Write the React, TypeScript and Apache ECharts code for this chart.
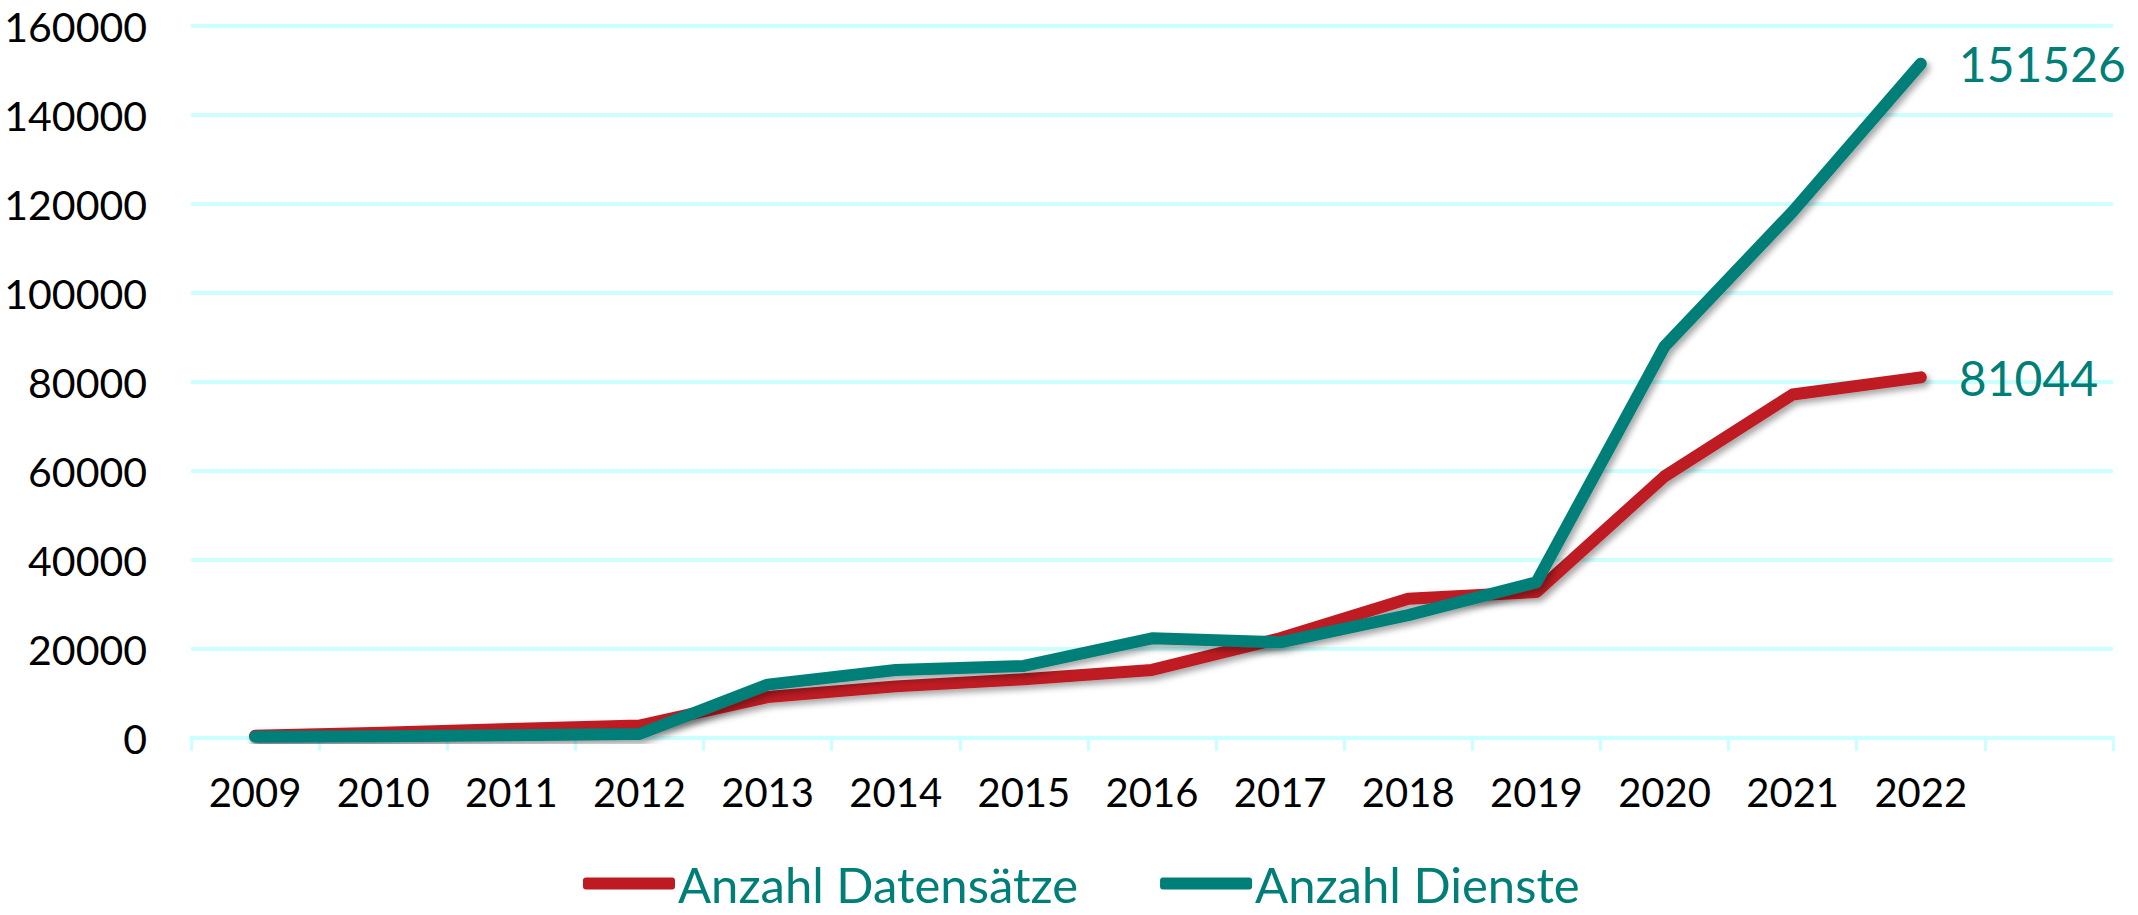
import React, { useEffect, useRef } from "react";
import * as echarts from "echarts";

const years = ["2009", "2010", "2011", "2012", "2013", "2014", "2015", "2016", "2017", "2018", "2019", "2020", "2021", "2022", ""];
const datensaetze = [500, 1200, 2000, 2800, 9200, 11600, 13200, 15300, 22400, 31300, 32800, 58800, 77200, 81044];
const dienste = [300, 400, 600, 900, 12000, 15300, 16200, 22400, 21500, 27600, 35000, 88000, 118300, 151526];
const yTicks = { min: 0, max: 160000, interval: 20000 };

const RED = "#BE1A22";
const TEAL = "#007F78";
const GRID = "#CCFFFF";
const FONT = "Lato";

export default function App() {
  const ref = useRef<HTMLDivElement>(null);
  useEffect(() => {
    if (!ref.current) return;
    const chart = echarts.init(ref.current, null, { renderer: "svg" });
    const shadow = {
      shadowColor: "rgba(0,0,0,0.35)",
      shadowBlur: 6,
      shadowOffsetX: 3,
      shadowOffsetY: 4,
    };
    const endLabel = {
      show: true,
      formatter: (p: any) => String(p.value),
      distance: 38,
      color: TEAL,
      fontSize: 48,
      fontFamily: FONT,
    };
    chart.setOption({
      animation: false,
      backgroundColor: "#ffffff",
      grid: { left: 191, right: 25, top: 26, bottom: 177 },
      legend: {
        left: 578,
        top: 854,
        icon: "roundRect",
        itemWidth: 92,
        itemHeight: 12,
        itemGap: 82,
        textStyle: { color: TEAL, fontSize: 49, fontFamily: FONT, padding: [0, 0, 0, -2] },
        data: ["Anzahl Datensätze", "Anzahl Dienste"],
      },
      xAxis: {
        type: "category",
        data: years,
        boundaryGap: true,
        axisLine: { lineStyle: { color: GRID, width: 4 } },
        axisTick: { show: true, length: 13, interval: 0, lineStyle: { color: GRID, width: 3 } },
        axisLabel: { color: "#000", fontSize: 40, fontFamily: FONT, margin: 34, interval: 0 },
      },
      yAxis: {
        type: "value",
        min: yTicks.min,
        max: yTicks.max,
        interval: yTicks.interval,
        axisLine: { show: false },
        axisTick: { show: false },
        splitLine: { lineStyle: { color: GRID, width: 4 } },
        axisLabel: {
          color: "#000",
          fontSize: 41,
          fontFamily: FONT,
          margin: 44,
          formatter: (v: number) => String(v),
        },
      },
      series: [
        {
          name: "Anzahl Datensätze",
          type: "line",
          data: datensaetze,
          symbol: "none",
          color: RED,
          lineStyle: { color: RED, width: 12, cap: "round", join: "round", ...shadow },
          itemStyle: { color: RED },
          endLabel,
        },
        {
          name: "Anzahl Dienste",
          type: "line",
          data: dienste,
          symbol: "none",
          color: TEAL,
          lineStyle: { color: TEAL, width: 12, cap: "round", join: "round", ...shadow },
          itemStyle: { color: TEAL },
          endLabel,
        },
      ],
    });
    return () => chart.dispose();
  }, []);
  return (
    <div
      ref={ref}
      style={{ position: "fixed", left: 0, top: 0, width: 2138, height: 915, background: "#fff" }}
    />
  );
}
